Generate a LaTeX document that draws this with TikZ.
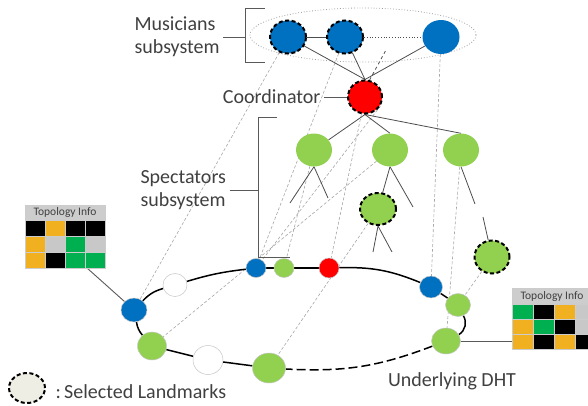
\documentclass[tikz,border=0pt]{standalone}
\usepackage{fontspec}
\setmainfont{Carlito}
\usetikzlibrary{shapes.geometric,backgrounds}
\definecolor{peerblue}{HTML}{0070C0}
\definecolor{peergreen}{HTML}{92D050}
\definecolor{peerred}{HTML}{FF0000}
\definecolor{tabor}{HTML}{F0B020}
\definecolor{tabgr}{HTML}{00B050}
\definecolor{tabgy}{HTML}{C8C8C8}
\definecolor{tabhd}{HTML}{CDCDCD}
\definecolor{legfill}{HTML}{EEEEE4}
\definecolor{txtgray}{HTML}{404040}
\begin{document}
\begin{tikzpicture}[x=1pt,y=-1pt,
    peer/.style 2 args={ellipse,inner sep=0pt,minimum width=#1pt,minimum height=#2pt},
    landmark/.style={draw=black,line width=2pt,dash pattern=on 4pt off 2.5pt},
    ringpeer/.style={draw=gray!45,line width=0.5pt},
    lbl/.style={text=txtgray,font={\fontsize{20}{23}\selectfont}},
    link/.style={draw=gray!70!black,line width=0.9pt},
    treeedge/.style={draw=gray!60!black,line width=0.8pt},
    ringedge/.style={draw=black,line width=1.5pt},
    mapline/.style={draw=gray!70,line width=0.6pt,dash pattern=on 3pt off 2pt},
    hdr/.style={fill=tabhd,draw=gray!40,inner sep=0pt,minimum width=80pt,minimum height=15pt,
      text=txtgray,font={\fontsize{11.5}{13}\selectfont}}]
\useasboundingbox (0,0) rectangle (588,405);

\node[peer={36}{33},fill=peerblue,landmark] (m1) at (288,37) {};
\node[peer={36}{33},fill=peerblue,landmark] (m2) at (345,37) {};
\node[peer={37}{34},fill=peerblue] (m3) at (441,37) {};
\node[peer={34}{33},fill=peerred,landmark] (coord) at (365,97) {};

\node[peer={36}{33},fill=peergreen] (g1) at (314,150) {};
\node[peer={36}{33},fill=peergreen] (g2) at (390,150) {};
\node[peer={36}{33},fill=peergreen] (g3) at (461,150) {};
\node[peer={36}{32},fill=peergreen,landmark] (g4) at (378,209) {};
\node[peer={35}{33},fill=peergreen,landmark] (g5) at (492,257) {};

\node[peer={20}{19},fill=peerblue,ringpeer] (r1) at (256,268) {};
\node[peer={20}{19},fill=peergreen,ringpeer] (r2) at (284,268) {};
\node[peer={20}{20},fill=peerred,ringpeer] (r3) at (329,268) {};
\node[peer={23}{22},fill=peerblue,ringpeer] (r4) at (431,287) {};
\node[peer={25}{23},fill=peergreen,ringpeer] (r5) at (458,305) {};
\node[peer={29}{26},fill=peergreen,ringpeer] (r6) at (446,341) {};
\node[peer={33}{30},fill=peergreen,ringpeer] (r7) at (269,368) {};
\node[peer={30}{29},fill=white,ringpeer] (r8) at (208,360) {};
\node[peer={29}{28},fill=peergreen,ringpeer] (r9) at (152,346) {};
\node[peer={26}{24},fill=peerblue,ringpeer] (r10) at (134,310) {};
\node[peer={24}{23},fill=white,ringpeer] (r11) at (175,285) {};

\node[lbl,align=left,anchor=west] (muslbl) at (131,37) {Musicians\\subsystem};
\node[lbl,align=left,anchor=west] (speclbl) at (137,190) {Spectators\\subsystem};
\node[lbl,anchor=east] (coordlbl) at (324,97) {Coordinator};
\node[lbl] (dhtlbl) at (452,381) {Underlying DHT};

\node[peer={36}{30},fill=legfill,landmark] (leg) at (27,388) {};
\node[lbl,anchor=west] (legtxt) at (52,392) {:\,Selected Landmarks};

\node[hdr] (topl) at (65,212.5) {Topology Info};
\foreach \row [count=\j from 0] in {{black,tabor,black,black},{tabor,tabgy,tabgr,tabgy},{tabor,black,tabgr,tabgr}}
  \foreach \c [count=\i from 0] in \row
    \filldraw[fill=\c,draw=gray!40] ({25+20*\i},{220+16*\j}) rectangle ++(20,16);
\node[hdr] (topr) at (552,296) {Topology Info};
\foreach \row [count=\j from 0] in {{tabgr,black,tabor,tabgy},{tabor,tabgr,black,tabgy},{tabor,black,tabor,black}}
  \foreach \c [count=\i from 0] in \row
    \filldraw[fill=\c,draw=gray!40] ({512+21*\i},{304+15*\j}) rectangle ++(21,15);

\coordinate (musbr) at (245,37);
\coordinate (specbr) at (258,190);
\coordinate (mmore) at (386,50);
\coordinate (tabl) at (87,268);
\coordinate (tabr) at (512,341);
\coordinate (g1a) at (290,203);
\coordinate (g1b) at (328,198);
\coordinate (g2a) at (413,207);
\coordinate (g4a) at (373,252);
\coordinate (g4b) at (392,252);
\coordinate (g3a) at (475,204);
\coordinate (g3b) at (483,217);

\begin{scope}[on background layer]
\draw[gray!75,line width=0.8pt,dotted] (363,35) ellipse [x radius=113pt,y radius=27pt];

\draw[mapline] (m1) -- (r10);
\draw[mapline] (m2) -- (r1);
\draw[mapline] (m3) -- (r4);
\draw[mapline] (coord) -- (r3);
\draw[mapline] (coord.-30) -- (r1);
\draw[mapline] (g1) -- (r2);
\draw[mapline] (g2) -- (r9);
\draw[mapline] (g3) -- (r6);
\draw[mapline] (g4) -- (r7);
\draw[mapline] (g5) -- (r5);

\draw[link] (265,8) -- (245,8) -- (245,62) -- (265,62);
\draw[link] (muslbl.east) -- (musbr);
\draw[link] (277,117) -- (258,117) -- (258,257) -- (290,257);
\draw[link] (speclbl.east) -- (specbr);
\draw[link] (coordlbl) -- (coord);
\draw[link] (tabl) -- (r10);
\draw[link] (r6) -- (tabr);

\draw[treeedge] (m1) -- (m2);
\draw[treeedge,dotted,line width=1pt] (m2) -- (m3);
\draw[treeedge] (m1) -- (coord.north);
\draw[treeedge] (m2) -- (coord.north);
\draw[treeedge] (m3) -- (coord.north);
\draw[treeedge,dashed] (coord.75) -- (mmore);
\draw[treeedge] (coord.south) -- (g1);
\draw[treeedge] (coord.south) -- (g2.north);
\draw[treeedge] (coord.south) -- (g3.north);
\draw[treeedge] (g1.south) -- (g1a);
\draw[treeedge] (g1.south) -- (g1b);
\draw[treeedge] (g2.south) -- (g4);
\draw[treeedge] (g2.south) -- (g2a);
\draw[treeedge] (g4.south) -- (g4a);
\draw[treeedge] (g4.south) -- (g4b);
\draw[treeedge] (g3.south) -- (g3a);
\draw[treeedge] (g3b) -- (g5);

\draw[ringedge] (r10) to[bend left=15] (r11);
\draw[ringedge] (r11) to[bend left=5] (r1);
\draw[ringedge] (r1) -- (r2) -- (r3);
\draw[ringedge] (r3) to[bend left=12] (r4);
\draw[ringedge] (r4) -- (r5);
\draw[ringedge] (r5) to[bend left=45] (r6);
\draw[ringedge,dash pattern=on 9pt off 4pt] (r6) to[bend left=12] (r7);
\draw[ringedge] (r7) -- (r8) -- (r9);
\draw[ringedge] (r9) to[bend left=15] (r10);
\end{scope}
\end{tikzpicture}
\end{document}
